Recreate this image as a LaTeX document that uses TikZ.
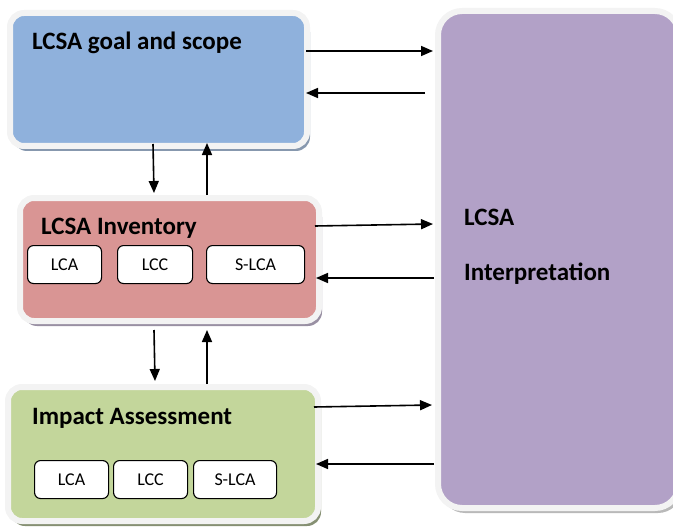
\documentclass[tikz,border=0pt]{standalone}
\usepackage{fontspec}
\setmainfont{Carlito}
\usetikzlibrary{arrows.meta,shadows}
\definecolor{cblue}{HTML}{8FB1DC}
\definecolor{cred}{HTML}{D99594}
\definecolor{cgreen}{HTML}{C3D69B}
\definecolor{cpurple}{HTML}{B2A1C7}
\definecolor{frame}{HTML}{F3F3F3}
\tikzset{
  bigbox/.style={draw=frame, line width=6pt, rounded corners=14pt, anchor=north west, inner sep=0pt,
     drop shadow={shadow xshift=3pt, shadow yshift=-5pt, fill=#1, opacity=1}},
  title/.style={anchor=west, font=\fontsize{25}{29}\selectfont\bfseries, inner sep=0pt},
  sub/.style={draw=black, line width=1.1pt, fill=white, rounded corners=6pt, anchor=north west,
     inner sep=0pt, font=\fontsize{18}{21}\selectfont},
  arr/.style={-{Triangle[length=12pt,width=10pt]}, line width=1.6pt}
}
\begin{document}
\begin{tikzpicture}[x=1pt,y=-1pt]
\useasboundingbox (0,0) rectangle (673,527);
% big boxes
\node[bigbox=gray!55, fill=cpurple, rounded corners=24pt, minimum width=241pt, minimum height=497pt] (interp) at (435,8) {};
\node[bigbox=gray!50!cblue, fill=cblue, minimum width=297pt, minimum height=133pt] (goal) at (7,10) {};
\node[bigbox=gray!50!cpurple, fill=cred, minimum width=299pt, minimum height=123pt] (inv) at (17,195) {};
\node[bigbox=gray!40!cgreen!80!black, fill=cgreen, minimum width=310pt, minimum height=134pt] (impact) at (5,384) {};
% titles
\node[title] (goalt) at (32,43) {LCSA goal and scope};
\node[title] (invt) at (41,228) {LCSA Inventory};
\node[title] (impt) at (32,418) {Impact Assessment};
\node[title] (lcsat) at (464,217) {LCSA};
\node[title] (interpt) at (464,274) {Interpretation};
% sub boxes inventory
\node[sub, minimum width=74pt, minimum height=38pt] (i1) at (27,245) {LCA};
\node[sub, minimum width=75pt, minimum height=38pt] (i2) at (117,245) {LCC};
\node[sub, minimum width=98pt, minimum height=38pt] (i3) at (206,245) {S-LCA};
% sub boxes impact
\node[sub, minimum width=74pt, minimum height=38pt] (a1) at (34,460) {LCA};
\node[sub, minimum width=74pt, minimum height=38pt] (a2) at (113,460) {LCC};
\node[sub, minimum width=83pt, minimum height=38pt] (a3) at (193,460) {S-LCA};
% horizontal arrows
\coordinate (g1) at (306,51); \coordinate (p1) at (433,51);
\coordinate (p2) at (425,93); \coordinate (g2) at (306,93);
\coordinate (r1) at (315,226); \coordinate (p3) at (433,224);
\coordinate (p4) at (434,278); \coordinate (r2) at (316,278);
\coordinate (e1) at (314,407); \coordinate (p5) at (432,405);
\coordinate (p6) at (434,464); \coordinate (e2) at (316,464);
\draw[arr] (g1) -- (p1);
\draw[arr] (p2) -- (g2);
\draw[arr] (r1) -- (p3);
\draw[arr] (p4) -- (r2);
\draw[arr] (e1) -- (p5);
\draw[arr] (p6) -- (e2);
% vertical arrows
\coordinate (v1) at (153,144); \coordinate (v2) at (154,193);
\coordinate (v3) at (207,195); \coordinate (v4) at (207,143);
\coordinate (v5) at (154,330); \coordinate (v6) at (155,381);
\coordinate (v7) at (207,384); \coordinate (v8) at (207,330);
\draw[arr] (v1) -- (v2);
\draw[arr] (v3) -- (v4);
\draw[arr] (v5) -- (v6);
\draw[arr] (v7) -- (v8);
\end{tikzpicture}
\end{document}
